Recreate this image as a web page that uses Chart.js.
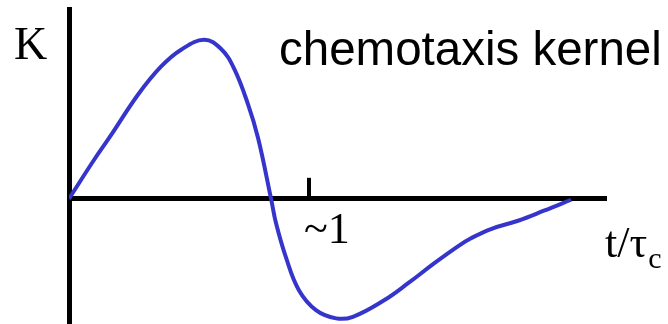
<!DOCTYPE html>
<html>
<head>
<meta charset="utf-8">
<script src="https://cdn.jsdelivr.net/npm/chart.js@4"></script>
<style>
  html, body { margin: 0; padding: 0; background: #fff; }
  #wrap { width: 668px; height: 324px; position: relative; }
</style>
</head>
<body>
<div id="wrap"><canvas id="c"></canvas></div>
<script>
// t / tau_c values
const tValues = [0, 0.104, 0.175, 0.288, 0.383, 0.467, 0.563, 0.633, 0.688, 0.746, 0.788, 0.842, 0.863, 0.904, 0.958, 1.029, 1.113, 1.183, 1.313, 1.413, 1.521, 1.625, 1.675, 1.758, 1.871, 1.979, 2.092];
// kernel K values (peak normalised to 1)
const kValues = [0, 0.244, 0.4, 0.656, 0.831, 0.938, 1.0, 0.944, 0.819, 0.594, 0.381, 0, -0.156, -0.369, -0.575, -0.7, -0.752, -0.742, -0.638, -0.531, -0.406, -0.294, -0.248, -0.19, -0.138, -0.075, -0.006];
const tickValues = [1];
const tickLabels = ['~1'];
const yAxisLabel = 'K';
const xAxisLabel = 't/τ';
const xAxisSub = 'c';
const titleText = 'chemotaxis kernel';

const points = tValues.map((t, i) => ({ x: t, y: kValues[i] }));

const textPlugin = {
  id: 'texts',
  afterDraw(chart) {
    const ctx = chart.ctx;
    const xs = chart.scales.x, ys = chart.scales.y;
    const y0 = ys.getPixelForValue(0);
    ctx.save();
    // upward tick marks
    ctx.strokeStyle = '#000';
    ctx.lineWidth = 4;
    tickValues.forEach((v, i) => {
      const px = xs.getPixelForValue(v);
      ctx.beginPath();
      ctx.moveTo(px, y0);
      ctx.lineTo(px, y0 - 21);
      ctx.stroke();
      ctx.fillStyle = '#000';
      ctx.font = '44px "Liberation Serif", "Times New Roman", serif';
      ctx.textBaseline = 'alphabetic';
      ctx.textAlign = 'left';
      ctx.fillText(tickLabels[i], px - 5, y0 + 44);
    });
    ctx.fillStyle = '#000';
    ctx.textBaseline = 'alphabetic';
    ctx.textAlign = 'left';
    // K label
    ctx.font = '46px "Liberation Serif", "Times New Roman", serif';
    ctx.fillText(yAxisLabel, 14, 59);
    // t/tau_c
    ctx.font = '44px "Liberation Serif", "Times New Roman", serif';
    ctx.fillText(xAxisLabel, 605, 257);
    const w = ctx.measureText(xAxisLabel).width;
    ctx.font = '30px "Liberation Serif", "Times New Roman", serif';
    ctx.fillText(xAxisSub, 605 + w + 1, 268);
    // title
    ctx.font = '47.5px "Liberation Sans", Arial, sans-serif';
    ctx.fillText(titleText, 279, 65);
    ctx.restore();
  }
};

new Chart(document.getElementById('c'), {
  type: 'line',
  data: {
    datasets: [{
      data: points,
      borderColor: '#3535cc',
      borderWidth: 4,
      pointRadius: 0,
      fill: false,
      tension: 0.4
    }]
  },
  options: {
    responsive: true,
    maintainAspectRatio: false,
    animation: false,
    layout: { padding: { left: 69, right: 62, top: 9, bottom: 0 } },
    plugins: { legend: { display: false }, tooltip: { enabled: false } },
    scales: {
      x: {
        type: 'linear',
        position: { y: 0 },
        min: 0,
        max: 2.2375,
        grid: { display: false },
        ticks: { display: false },
        border: { display: true, color: '#000', width: 5 }
      },
      y: {
        type: 'linear',
        position: 'left',
        min: -0.7875,
        max: 1.194,
        grid: { display: false },
        ticks: { display: false },
        border: { display: true, color: '#000', width: 5 },
        afterFit(s) { s.width = 0; }
      }
    }
  },
  plugins: [textPlugin]
});
</script>
</body>
</html>
